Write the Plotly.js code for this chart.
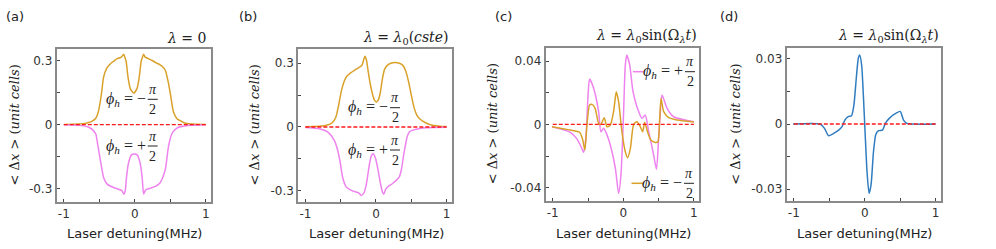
<!DOCTYPE html>
<html><head><meta charset="utf-8">
<script src="https://cdn.plot.ly/plotly-3.0.1.min.js"></script>
<style>html,body{margin:0;padding:0;background:#fff}#chart{width:996px;height:249px}</style>
</head><body><div id="chart"></div>
<script>
// ---------- data ----------
const aOrangeX = [-1,-0.8,-0.7,-0.65,-0.6,-0.55,-0.51,-0.47,-0.44,-0.4,-0.344,-0.3,-0.25,-0.19,-0.157,-0.135,-0.124,-0.096,-0.063,-0.017,0.029,0.062,0.09,0.101,0.123,0.145,0.19,0.25,0.3,0.344,0.38,0.43,0.47,0.5,0.545,0.6,0.64,0.7,0.8,1];
const aOrangeY = [0.001,0.003,0.006,0.01,0.017,0.03,0.066,0.145,0.223,0.262,0.286,0.297,0.31,0.317,0.33,0.31,0.3,0.223,0.168,0.148,0.168,0.223,0.3,0.31,0.33,0.317,0.31,0.3,0.29,0.283,0.275,0.254,0.2,0.145,0.058,0.025,0.019,0.008,0.003,0.001];
const aPinkX = [-1,-0.8,-0.7,-0.65,-0.6,-0.55,-0.52,-0.48,-0.44,-0.39,-0.3,-0.23,-0.18,-0.157,-0.135,-0.12,-0.1,-0.087,-0.05,-0.007,0.035,0.072,0.085,0.105,0.124,0.145,0.17,0.22,0.29,0.35,0.39,0.43,0.475,0.52,0.56,0.615,0.7,0.8,1];
const aPinkY = [-0.001,-0.003,-0.007,-0.012,-0.022,-0.044,-0.1,-0.177,-0.248,-0.279,-0.295,-0.303,-0.31,-0.326,-0.31,-0.256,-0.2,-0.177,-0.143,-0.138,-0.143,-0.177,-0.2,-0.256,-0.326,-0.31,-0.303,-0.298,-0.29,-0.275,-0.25,-0.209,-0.1,-0.044,-0.025,-0.012,-0.006,-0.003,-0.001];

const bOrangeX = [-1,-0.8,-0.7,-0.62,-0.57,-0.53,-0.49,-0.45,-0.41,-0.36,-0.3,-0.25,-0.2,-0.175,-0.155,-0.135,-0.11,-0.08,-0.05,-0.02,0.005,0.03,0.06,0.09,0.12,0.16,0.21,0.27,0.33,0.38,0.42,0.46,0.5,0.54,0.58,0.63,0.7,0.8,0.9,1];
const bOrangeY = [0.001,0.003,0.008,0.02,0.045,0.1,0.17,0.215,0.24,0.255,0.268,0.278,0.29,0.315,0.333,0.315,0.26,0.2,0.155,0.125,0.118,0.125,0.16,0.225,0.27,0.29,0.3,0.303,0.3,0.29,0.265,0.215,0.15,0.09,0.055,0.035,0.02,0.008,0.004,0.002];
const bPinkX = [-1,-0.8,-0.68,-0.59,-0.55,-0.51,-0.47,-0.42,-0.35,-0.3,-0.245,-0.21,-0.17,-0.14,-0.12,-0.09,-0.07,-0.04,-0.005,0.03,0.06,0.09,0.11,0.135,0.17,0.23,0.29,0.33,0.36,0.395,0.42,0.44,0.47,0.51,0.6,0.7,0.8,1];
const bPinkY = [-0.002,-0.008,-0.024,-0.063,-0.1,-0.16,-0.24,-0.283,-0.298,-0.304,-0.31,-0.322,-0.31,-0.275,-0.235,-0.17,-0.14,-0.125,-0.15,-0.204,-0.26,-0.305,-0.317,-0.295,-0.28,-0.267,-0.25,-0.235,-0.2,-0.125,-0.08,-0.047,-0.025,-0.016,-0.008,-0.004,-0.002,-0.001];

const cPinkX = [-1.01,-0.75,-0.66,-0.6,-0.563,-0.54,-0.525,-0.5,-0.478,-0.42,-0.35,-0.318,-0.28,-0.24,-0.185,-0.113,-0.067,-0.034,0.004,0.028,0.05,0.09,0.137,0.193,0.264,0.31,0.36,0.43,0.47,0.5,0.525,0.548,0.62,0.713,1.0];
const cPinkY = [-0.0015,-0.005,-0.009,-0.014,-0.0177,-0.012,-0.005,0.0185,0.0286,0.0227,0.008,-0.0047,-0.0025,-0.0057,-0.013,-0.0278,-0.0436,-0.032,0.008,0.0375,0.0438,0.0375,0.0206,0.0111,0.0038,0.0059,-0.0047,-0.0194,-0.0284,-0.009,0.008,0.0185,0.0101,0.0048,0.0016];
const cOrangeX = [-1.01,-0.75,-0.62,-0.58,-0.545,-0.515,-0.478,-0.445,-0.4,-0.35,-0.318,-0.27,-0.232,-0.185,-0.138,-0.1,-0.067,-0.02,0.028,0.061,0.1,0.146,0.193,0.24,0.274,0.302,0.345,0.39,0.454,0.49,0.515,0.534,0.572,0.643,0.76,1.0];
const cOrangeY = [-0.0015,-0.0036,-0.005,-0.009,-0.0162,0,0.0122,0.0126,0.0101,0.0006,0,0.0042,-0.0015,-0.0005,0.008,0.0206,0.0143,-0.0047,-0.0173,-0.0211,-0.0152,0,0.0016,-0.0015,-0.0047,0.0013,-0.005,-0.0099,-0.0114,-0.011,0.0038,0.0164,0.008,0.0042,0.0028,0.0015];

const dBlueX = [-1.01,-0.63,-0.567,-0.51,-0.438,-0.367,-0.319,-0.28,-0.233,-0.186,-0.152,-0.119,-0.09,-0.071,-0.043,-0.019,0.005,0.033,0.062,0.09,0.124,0.157,0.195,0.252,0.29,0.347,0.419,0.5,0.548,0.595,1.0];
const dBlueY = [0,0,-0.002,-0.0054,-0.0043,-0.0028,-0.0012,0.0018,0.0034,0.0038,0.0088,0.021,0.0303,0.0318,0.0272,0.0134,-0.0035,-0.022,-0.032,-0.028,-0.0128,-0.0048,-0.0031,-0.0028,0.0003,0.0026,0.0045,0.0058,0.0018,0.0003,0];

const zeroX = [-1, 1];
const zeroY = [0, 0];

const xTickVals = [-1,-0.5,0,0.5,1];
const xTickText = ['-1','','0','','1'];
const yTickValsAB = [-0.3,-0.15,0,0.15,0.3];
const yTickTextAB = ['-0.3','','0','','0.3'];
const yTickValsC = [-0.04,-0.02,0,0.02,0.04];
const yTickTextC = ['-0.04','','0','','0.04'];
const yTickValsD = [-0.03,-0.015,0,0.015,0.03];
const yTickTextD = ['-0.03','','0','','0.03'];

const panelLabels = ['(a)','(b)','(c)','(d)'];
const panelTitles = ['<i>λ</i> = 0','<i>λ</i> = <i>λ</i><sub>0</sub>(<i>cste</i>)','<i>λ</i> = <i>λ</i><sub>0</sub>sin(Ω<sub><i>λ</i></sub><i>t</i>)','<i>λ</i> = <i>λ</i><sub>0</sub>sin(Ω<sub><i>λ</i></sub><i>t</i>)'];
const xTitle = 'Laser detuning(MHz)';
const yTitle = '< Δ<i>x</i> > (<i>unit cells</i>)';

// ---------- styles ----------
const ORANGE = '#D9A12A', PINK = '#EE82EE', BLUE = '#2F7DC0', RED = '#FF1A1A';
const W = 996, H = 249;
const PX = v => v / W, PY = v => 1 - v / H;

// frames in pixels [left,right,top,bottom]
const frames = [[56.7,211,49,202],[298.3,451.7,49,202],[545.7,699,47.7,201],[786.7,940.7,48.3,201]];
const yRanges = [[-0.363,0.355],[-0.353,0.367],[-0.0484,0.0484],[-0.0355,0.0349]];
const yTV = [yTickValsAB,yTickValsAB,yTickValsC,yTickValsD];
const yTT = [yTickTextAB,yTickTextAB,yTickTextC,yTickTextD];

function line(x,y,color,ax,extra){
  return Object.assign({x:x,y:y,type:'scatter',mode:'lines',xaxis:'x'+ax,yaxis:'y'+ax,
    line:{color:color,width:1.5,shape:'spline',smoothing:0.6},hoverinfo:'skip',showlegend:false},extra||{});
}
function zero(ax){
  return {x:zeroX,y:zeroY,type:'scatter',mode:'lines',xaxis:'x'+ax,yaxis:'y'+ax,
    line:{color:RED,width:1.3,dash:'4px,2px'},hoverinfo:'skip',showlegend:false};
}
const data = [
  line(aOrangeX,aOrangeY,ORANGE,''), line(aPinkX,aPinkY,PINK,''), zero(''),
  line(bOrangeX,bOrangeY,ORANGE,'2'), line(bPinkX,bPinkY,PINK,'2'), zero('2'),
  line(cPinkX,cPinkY,PINK,'3'), line(cOrangeX,cOrangeY,ORANGE,'3'), zero('3'),
  line(dBlueX,dBlueY,BLUE,'4'), zero('4')
];

const tickFont = {family:'DejaVu Sans, sans-serif', size:12, color:'#333'};
const layout = {width:W,height:H,margin:{l:0,r:0,t:0,b:0},paper_bgcolor:'#fff',plot_bgcolor:'#fff',
  showlegend:false, annotations:[], shapes:[]};
const sfx = ['','2','3','4'];
frames.forEach((f,i)=>{
  const base = {showline:true,mirror:true,linecolor:'#8a8a8a',linewidth:2,ticks:'inside',ticklen:3,tickwidth:1,
    tickcolor:'#444',showgrid:false,zeroline:false,tickfont:tickFont,fixedrange:true};
  layout['xaxis'+sfx[i]] = Object.assign({},base,{domain:[PX(f[0]),PX(f[1])],range:[-1.1,1.072],
    tickmode:'array',tickvals:xTickVals,ticktext:xTickText,anchor:'y'+sfx[i]});
  layout['yaxis'+sfx[i]] = Object.assign({},base,{domain:[PY(f[3]),PY(f[2])],range:yRanges[i],
    tickmode:'array',tickvals:yTV[i],ticktext:yTT[i],anchor:'x'+sfx[i]});
});

const A = layout.annotations, S = layout.shapes;
function ann(text,x,y,opts){
  A.push(Object.assign({text:text,x:PX(x),y:PY(y),xref:'paper',yref:'paper',showarrow:false,
    xanchor:'center',yanchor:'middle',font:{family:'DejaVu Sans, sans-serif',size:13,color:'#222'}},opts||{}));
}
const serif = (s)=>({family:'DejaVu Serif, serif',size:s,color:'#222'});
const lserif = (s)=>({family:'Liberation Serif, serif',size:s,color:'#222'});
// panel labels
[14.5,248,504,729].forEach((x,i)=>ann(panelLabels[i],x,16));
// titles
const titleRight = [208,451,699,941];
const titleY = [38,38,36,36];
titleRight.forEach((x,i)=>ann(panelTitles[i],x,titleY[i],{xanchor:'right',font:serif(14)}));
// x titles
frames.forEach(f=>ann(xTitle,(f[0]+f[1])/2 + 1,233,{font:{family:'DejaVu Sans, sans-serif',size:13,color:'#222'}}));
// y titles
[14,254,492,736].forEach((x,i)=>ann(yTitle,x,(frames[i][2]+frames[i][3])/2,{textangle:-90,font:serif(13)}));

// phi labels with stacked fractions
function phiLabel(cx,barY,sign){
  ann('<i>ϕ</i><sub><i>h</i></sub> = '+sign,cx-5,barY,{xanchor:'right',font:lserif(16)});
  ann('<i>π</i>',cx,barY-0.5,{yanchor:'bottom',font:lserif(14)});
  ann('2',cx,barY+0.5,{yanchor:'top',font:lserif(14)});
  S.push({type:'line',xref:'paper',yref:'paper',x0:PX(cx-5),x1:PX(cx+5),y0:PY(barY),y1:PY(barY),line:{color:'#222',width:1}});
}
phiLabel(152.7,99.3,'−');
phiLabel(152.7,146,'+');
phiLabel(395,107.7,'−');
phiLabel(395,150,'+');
phiLabel(690,71.7,'+');
phiLabel(689,183.3,'−');
// legend line samples in (c)
S.push({type:'line',xref:'paper',yref:'paper',x0:PX(633),x1:PX(643.5),y0:PY(71.7),y1:PY(71.7),line:{color:PINK,width:1.5}});
S.push({type:'line',xref:'paper',yref:'paper',x0:PX(631.5),x1:PX(643.5),y0:PY(183.3),y1:PY(183.3),line:{color:ORANGE,width:1.5}});

Plotly.newPlot('chart',data,layout,{staticPlot:true,displayModeBar:false});
</script></body></html>
